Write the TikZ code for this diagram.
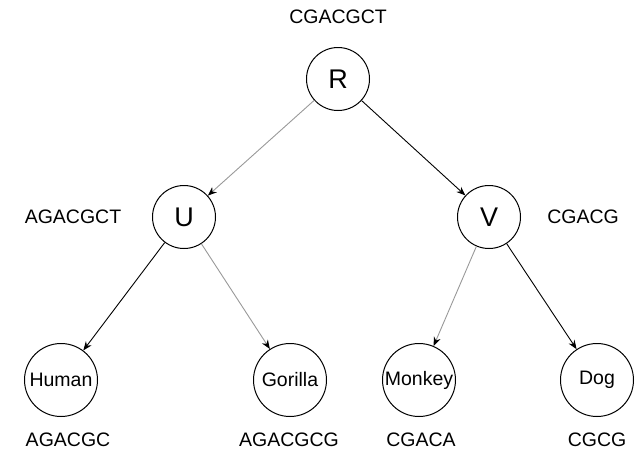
\documentclass[tikz,border=0pt]{standalone}
\usepackage{fontspec}
\setmainfont{Liberation Sans}
\usetikzlibrary{arrows.meta}
\begin{document}
\begin{tikzpicture}[x=1pt,y=-1pt,
  every node/.style={font=\fontsize{19.5}{22}\selectfont},
  inner/.style={circle,draw,line width=1pt,minimum size=63pt,inner sep=0pt,font=\fontsize{27}{30}\selectfont},
  leaf/.style={circle,draw,line width=1pt,minimum size=73pt,inner sep=0pt},
  seq/.style={inner sep=0pt},
  edge/.style={-{Stealth[length=9pt,width=7pt]},line width=0.9pt,black},
  edgegray/.style={line width=0.9pt,draw=gray!80,
    arrows={-{Stealth[length=9pt,width=7pt,color=black]}}}]
\useasboundingbox (0,0) rectangle (640,451);
\node[inner] (R) at (338,79) {R};
\node[inner] (U) at (184,217) {U};
\node[inner] (V) at (489,217) {V};
\node[leaf] (H) at (61,380) {Human};
\node[leaf] (G) at (290,380) {Gorilla};
\node[leaf] (M) at (419,380) {Monkey};
\node[leaf] (D) at (597,380) {Dog};
\node[seq] (sR) at (338,17) {CGACGCT};
\node[seq] (sU) at (73,217) {AGACGCT};
\node[seq] (sV) at (583,217) {CGACG};
\node[seq] (sH) at (68,440) {AGACGC};
\node[seq] (sG) at (289,440) {AGACGCG};
\node[seq] (sM) at (421,440) {CGACA};
\node[seq] (sD) at (597,440) {CGCG};
\draw[edgegray] (R) -- (U);
\draw[edge] (R) -- (V);
\draw[edge] (U) -- (H);
\draw[edgegray] (U) -- (G);
\draw[edgegray] (V) -- (M);
\draw[edge] (V) -- (D);
\end{tikzpicture}
\end{document}
